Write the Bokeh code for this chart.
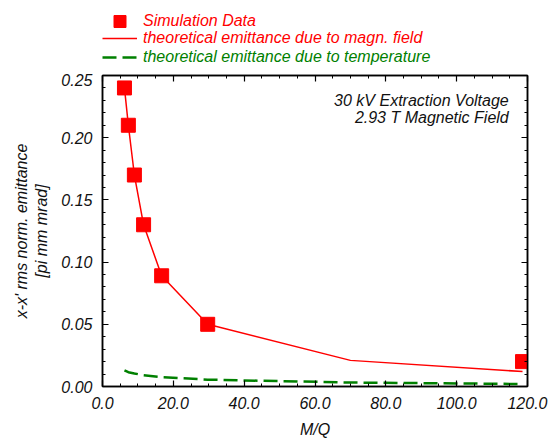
from bokeh.plotting import figure
from bokeh.layouts import column
from bokeh.models import (LinearAxis, SingleIntervalTicker, NumeralTickFormatter,
                          Legend, LegendItem, Label, Range1d)
from bokeh.embed import file_html
from bokeh.resources import INLINE

# data
mq_sim = [6.2, 7.3, 9.0, 11.6, 16.7, 29.7, 118.6]
emit_sim = [0.240, 0.210, 0.170, 0.130, 0.089, 0.050, 0.020]
mq_theo = [6.2, 7.3, 9.0, 11.6, 16.7, 29.7, 70.0, 118.6]
emit_magn = [0.240, 0.210, 0.170, 0.130, 0.089, 0.050, 0.021, 0.012]
emit_temp = [0.013, 0.0115, 0.0105, 0.009, 0.0075, 0.0055, 0.0032, 0.002]
legend_labels = ["Simulation Data",
                 "theoretical emittance due to magn. field",
                 "theoretical emittance due to temperature"]
legend_colors = ["red", "red", "green"]
note_lines = ["30 kV Extraction Voltage", "2.93 T Magnetic Field"]

FONT = "Liberation Sans"


def add_series(fig):
    r_magn = fig.line(mq_theo, emit_magn, line_color="red", line_width=1.5)
    r_temp = fig.line(mq_theo, emit_temp, line_color="green", line_width=2.5,
                      line_dash="14 6")
    r_sim = fig.scatter(mq_sim, emit_sim, marker="square", size=14,
                        fill_color="red", line_color="red")
    return [r_sim, r_magn, r_temp]


# ---------- main plot ----------
p = figure(frame_width=425, frame_height=311, output_backend="svg",
           toolbar_location=None, x_range=Range1d(0, 120), y_range=Range1d(0, 0.25),
           min_border_left=102, min_border_right=33, min_border_top=2,
           min_border_bottom=55, x_axis_location=None, y_axis_location=None)
p.grid.visible = False
p.outline_line_color = "black"
p.outline_line_width = 1.5
p.background_fill_color = "white"
p.border_fill_color = "white"


def style(ax, labels=True):
    ax.major_tick_in = 6
    ax.major_tick_out = 0
    ax.minor_tick_in = 3
    ax.minor_tick_out = 0
    ax.axis_line_color = "black"
    ax.axis_line_width = 1.5
    ax.major_tick_line_width = 1.2
    ax.minor_tick_line_width = 1
    ax.major_label_text_font = FONT
    ax.major_label_text_font_style = "italic"
    ax.major_label_text_font_size = "16px"
    ax.major_label_text_color = "#111111"
    ax.major_label_standoff = 10
    ax.axis_label_text_font = FONT
    ax.axis_label_text_font_style = "italic"
    ax.axis_label_text_font_size = "16px"
    ax.axis_label_text_color = "#111111"
    if not labels:
        ax.major_label_text_font_size = "0px"
        ax.major_label_text_alpha = 0
        ax.major_label_standoff = 0


xt = lambda: SingleIntervalTicker(interval=20, num_minor_ticks=4)
yt = lambda: SingleIntervalTicker(interval=0.05, num_minor_ticks=5)

xb = LinearAxis(ticker=xt(), formatter=NumeralTickFormatter(format="0.0"), axis_label="M/Q")
style(xb)
xb.axis_label_standoff = 9
p.add_layout(xb, "below")
xa = LinearAxis(ticker=xt())
style(xa, False)
p.add_layout(xa, "above")

yl = LinearAxis(ticker=yt(), formatter=NumeralTickFormatter(format="0.00"),
                axis_label="x-x' rms norm. emittance\n[pi mm mrad]")
style(yl)
yl.axis_label_standoff = 8
p.add_layout(yl, "left")
yr = LinearAxis(ticker=yt())
style(yr, False)
p.add_layout(yr, "right")

add_series(p)

for i, txt in enumerate(note_lines):
    p.add_layout(Label(x=114.7, y=0.230 - i * 0.0135, text=txt, text_align="right",
                       text_baseline="middle", text_font=FONT, text_font_style="italic",
                       text_font_size="16px", text_color="#111111"))

# ---------- legend strip above the plot ----------
top = figure(width=560, height=73, output_backend="svg", toolbar_location=None,
             x_range=Range1d(1000, 1001), y_range=Range1d(1000, 1001),
             min_border=0, x_axis_location=None, y_axis_location=None)
top.grid.visible = False
top.outline_line_color = None
top.border_fill_color = "white"
top.background_fill_color = "white"
leg_renderers = add_series(top)

heights = [30, 18, 18]
locs = [(0, 37), (0, 26), (0, 7)]
for idx in range(3):
    lg = Legend(items=[LegendItem(label=legend_labels[idx], renderers=[leg_renderers[idx]])],
                location=locs[idx], glyph_width=35, glyph_height=heights[idx],
                label_height=heights[idx], padding=0, margin=0, label_standoff=6,
                border_line_color=None, background_fill_alpha=0,
                label_text_font=FONT, label_text_font_style="italic",
                label_text_font_size="16px", label_text_color=legend_colors[idx])
    top.add_layout(lg, "center")

layout = column(top, p, spacing=0)
open("out.html", "w").write(file_html(layout, INLINE))
